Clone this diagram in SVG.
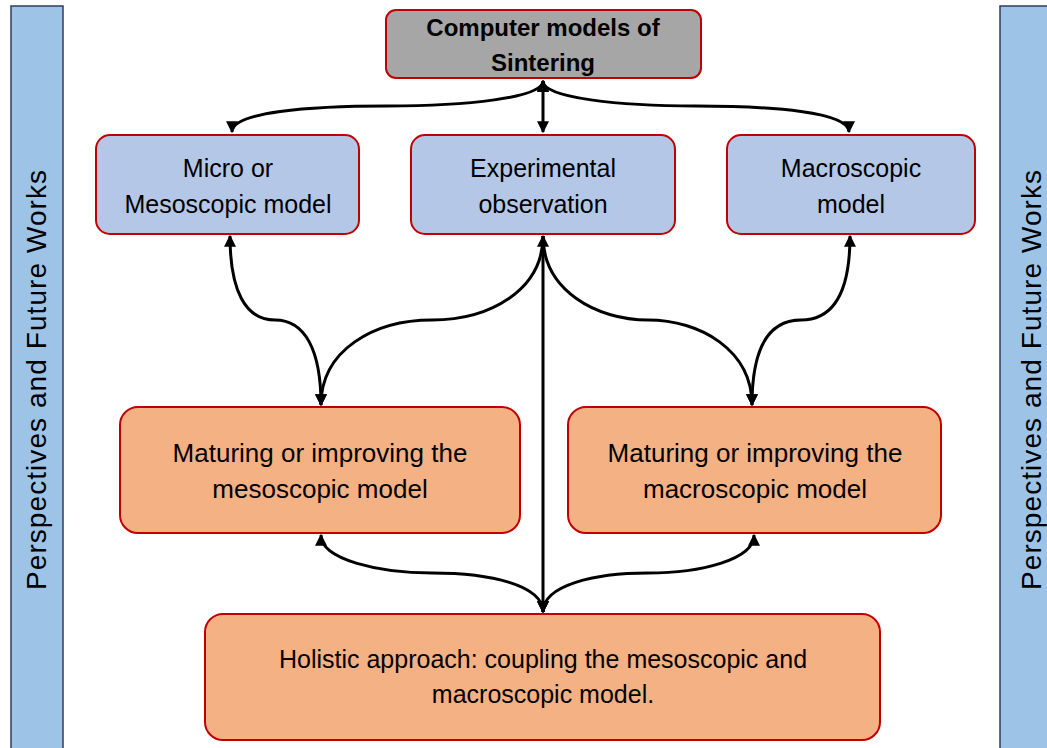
<svg xmlns="http://www.w3.org/2000/svg" width="1047" height="748" viewBox="0 0 1047 748">
<style>
.bar{fill:#9dc3e6;stroke:#2f3d5c;stroke-width:1.5}
.node{stroke:#c00000;stroke-width:2}
.gray{fill:#a6a6a6}
.blue{fill:#b4c7e7}
.orange{fill:#f4b183}
text{font-family:"Liberation Sans",Arial,sans-serif;font-size:25px;fill:#000;text-anchor:middle}
.bold{font-weight:bold;font-size:24px}
.big{font-size:26px}
.side{font-size:28px}
.conn{fill:none;stroke:#000;stroke-width:3;marker-start:url(#ah);marker-end:url(#ah)}
.conn1{fill:none;stroke:#000;stroke-width:3;marker-end:url(#ah)}
</style>
<defs>
<marker id="ah" viewBox="0 0 10 10" refX="9" refY="5" markerWidth="4" markerHeight="4" orient="auto-start-reverse" markerUnits="strokeWidth">
<path d="M0,0 L10,5 L0,10 z" fill="#000"/>
</marker>
</defs>
<rect width="1047" height="748" fill="#fff"/>
<g id="side-left">
<rect class="bar" x="11" y="6" width="52" height="760"/>
<text class="side" transform="translate(46,380) rotate(-90)" textLength="420" lengthAdjust="spacing">Perspectives and Future Works</text>
</g>
<g id="side-right">
<rect class="bar" x="1000" y="6" width="60" height="760"/>
<text class="side" transform="translate(1041,380) rotate(-90)" textLength="420" lengthAdjust="spacing">Perspectives and Future Works</text>
</g>
<g id="connectors">
<path class="conn" d="M543,81 C543,98 465,106 387,106 C309,106 232,112 232,132"/>
<path class="conn" d="M543,81 C543,98 620,106 696,106 C772,106 849,112 849,132"/>
<path class="conn" d="M543,81 L543,132"/>
<path class="conn" d="M230,236 C230,290 245,320 275,320 C305,320 321,350 321,405"/>
<path class="conn1" d="M543,236 C543,290 490,320 432,320 C374,320 321,350 321,405"/>
<path class="conn1" d="M543,236 C543,290 596,320 648,320 C700,320 752,350 752,405"/>
<path class="conn" d="M850,236 C850,290 835,320 801,320 C767,320 752,350 752,405"/>
<path class="conn" d="M543,236 L543,612"/>
<path class="conn" d="M321,535 C321,560 380,573 432,573 C490,573 543,585 543,612"/>
<path class="conn" d="M754,535 C754,560 700,573 648,573 C595,573 543,585 543,612"/>
</g>
<g id="n-top">
<rect class="node gray" x="386" y="10" width="315" height="68" rx="10"/>
<text class="bold" x="543" y="36">Computer models of</text>
<text class="bold" x="543" y="71">Sintering</text>
</g>
<g id="n-micro">
<rect class="node blue" x="96" y="135" width="263" height="99" rx="14"/>
<text x="228" y="177">Micro or</text>
<text x="228" y="213">Mesoscopic model</text>
</g>
<g id="n-exp">
<rect class="node blue" x="411" y="135" width="264" height="99" rx="14"/>
<text x="543" y="177">Experimental</text>
<text x="543" y="213">observation</text>
</g>
<g id="n-macro">
<rect class="node blue" x="727" y="135" width="248" height="99" rx="14"/>
<text x="851" y="177">Macroscopic</text>
<text x="851" y="213">model</text>
</g>
<g id="n-mature-meso">
<rect class="node orange" x="120" y="407" width="400" height="126" rx="18"/>
<text class="big" x="320" y="462">Maturing or improving the</text>
<text class="big" x="320" y="498">mesoscopic model</text>
</g>
<g id="n-mature-macro">
<rect class="node orange" x="568" y="407" width="373" height="126" rx="18"/>
<text class="big" x="755" y="462">Maturing or improving the</text>
<text class="big" x="755" y="498">macroscopic model</text>
</g>
<g id="n-holistic">
<rect class="node orange" x="205" y="614" width="675" height="126" rx="18"/>
<text x="543" y="668">Holistic approach: coupling the mesoscopic and</text>
<text x="543" y="703">macroscopic model.</text>
</g>
</svg>
